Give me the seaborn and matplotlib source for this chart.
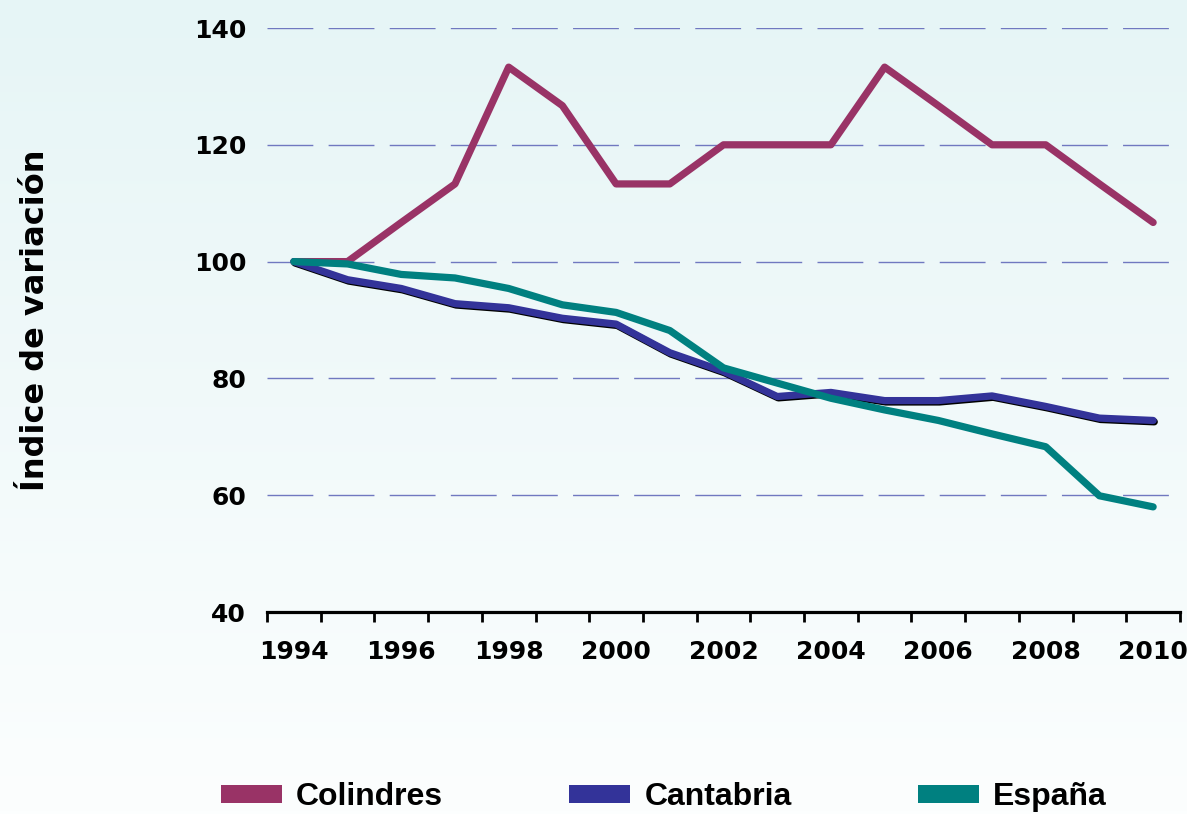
import numpy as np
import pandas as pd
import matplotlib
matplotlib.use("Agg")
import matplotlib.pyplot as plt
import matplotlib.patheffects as pe
from matplotlib.patches import Patch
import seaborn as sns

# ---- data ----
years = [str(y) for y in range(1994, 2011)]
colindres = [100, 100, 106.7, 113.3, 133.3, 126.7, 113.3, 113.3, 120, 120, 120,
             133.3, 126.7, 120, 120, 113.3, 106.7]
cantabria = [100, 96.9, 95.4, 92.8, 92.1, 90.3, 89.3, 84.4, 81.2, 76.9, 77.6,
             76.2, 76.2, 77.0, 75.2, 73.2, 72.8]
espana = [100, 99.6, 97.8, 97.2, 95.4, 92.6, 91.3, 88.2, 81.8, 79.2, 76.6,
          74.6, 72.8, 70.5, 68.3, 59.9, 58.0]
series_names = ["Colindres", "Cantabria", "España"]
colors = ["#993366", "#333399", "#008080"]
y_ticks = [40, 60, 80, 100, 120, 140]
x_labels = years[::2]

sns.set_theme(style="white")
plt.rcParams["font.family"] = ["DejaVu Sans"]
plt.rcParams["text.color"] = "black"
plt.rcParams["xtick.color"] = "black"
plt.rcParams["ytick.color"] = "black"

df = pd.DataFrame({
    "idx": list(range(len(years))) * 3,
    "value": colindres + cantabria + espana,
    "serie": [s for s in series_names for _ in years],
})

W, H = 1187, 814
fig = plt.figure(figsize=(W / 100, H / 100), dpi=100)

# background gradient
bg = fig.add_axes([0, 0, 1, 1], zorder=-10)
grad = np.linspace(0, 1, 256).reshape(-1, 1)
top = np.array([230, 245, 246]) / 255
bot = np.array([252, 254, 254]) / 255
img = top[None, None, :] * (1 - grad[:, :, None]) + bot[None, None, :] * grad[:, :, None]
bg.imshow(img, aspect="auto", extent=[0, 1, 0, 1])
bg.axis("off")

ax = fig.add_axes([267 / W, 1 - 612 / H, (1180 - 267) / W, (612 - 28) / H])
ax.set_facecolor("none")

sns.lineplot(data=df, x="idx", y="value", hue="serie", palette=dict(zip(series_names, colors)),
             linewidth=5.2, legend=False, ax=ax, zorder=3)
for line in ax.get_lines():
    line.set_solid_capstyle("round")
    line.set_solid_joinstyle("round")
# shadow on Cantabria
ax.get_lines()[1].set_path_effects([pe.SimpleLineShadow(offset=(0.8, -1.0), shadow_color="black", alpha=1.0),
                                    pe.Normal()])

ax.set_xlim(-0.5, len(years) - 0.5)
ax.set_ylim(40, 140)
ax.set_yticks(y_ticks)
ax.set_yticklabels([str(v) for v in y_ticks], fontsize=18, fontweight="bold", color="black")
ax.tick_params(axis="y", length=0, pad=15)

ax.set_xticks(range(0, len(years), 2))
ax.set_xticklabels(x_labels, fontsize=18, fontweight="bold", color="black")
ax.set_xticks(np.arange(-0.5, len(years), 1.0), minor=True)
ax.tick_params(axis="x", which="major", length=0, pad=20, bottom=True)
ax.tick_params(axis="x", which="minor", length=7, width=2, direction="out", color="black", bottom=True)

for v in y_ticks[1:]:
    ax.axhline(v, color="#7078c0", linewidth=1.0, dashes=(33, 11), zorder=1)

for s in ["left", "right", "top"]:
    ax.spines[s].set_visible(False)
ax.spines["bottom"].set_linewidth(2.3)
ax.spines["bottom"].set_color("black")
ax.set_xlabel("")
ax.set_ylabel("")

fig.text(36 / W, 1 - 320 / H, "Índice de variación", rotation=90, ha="center", va="center",
         fontsize=23, fontweight="bold", color="black")

handles = [Patch(facecolor=c, edgecolor="none", label=n) for n, c in zip(series_names, colors)]
fig.legend(handles=handles, loc="center left", bbox_to_anchor=(221 / W, 1 - 797 / H), ncol=3,
           frameon=False, borderpad=0, borderaxespad=0, handlelength=1.9, handleheight=0.5,
           handletextpad=0.45, columnspacing=3.95, labelcolor="black",
           prop={"family": "Liberation Sans", "weight": "bold", "size": 23})

fig.savefig("out.png", dpi=100)
